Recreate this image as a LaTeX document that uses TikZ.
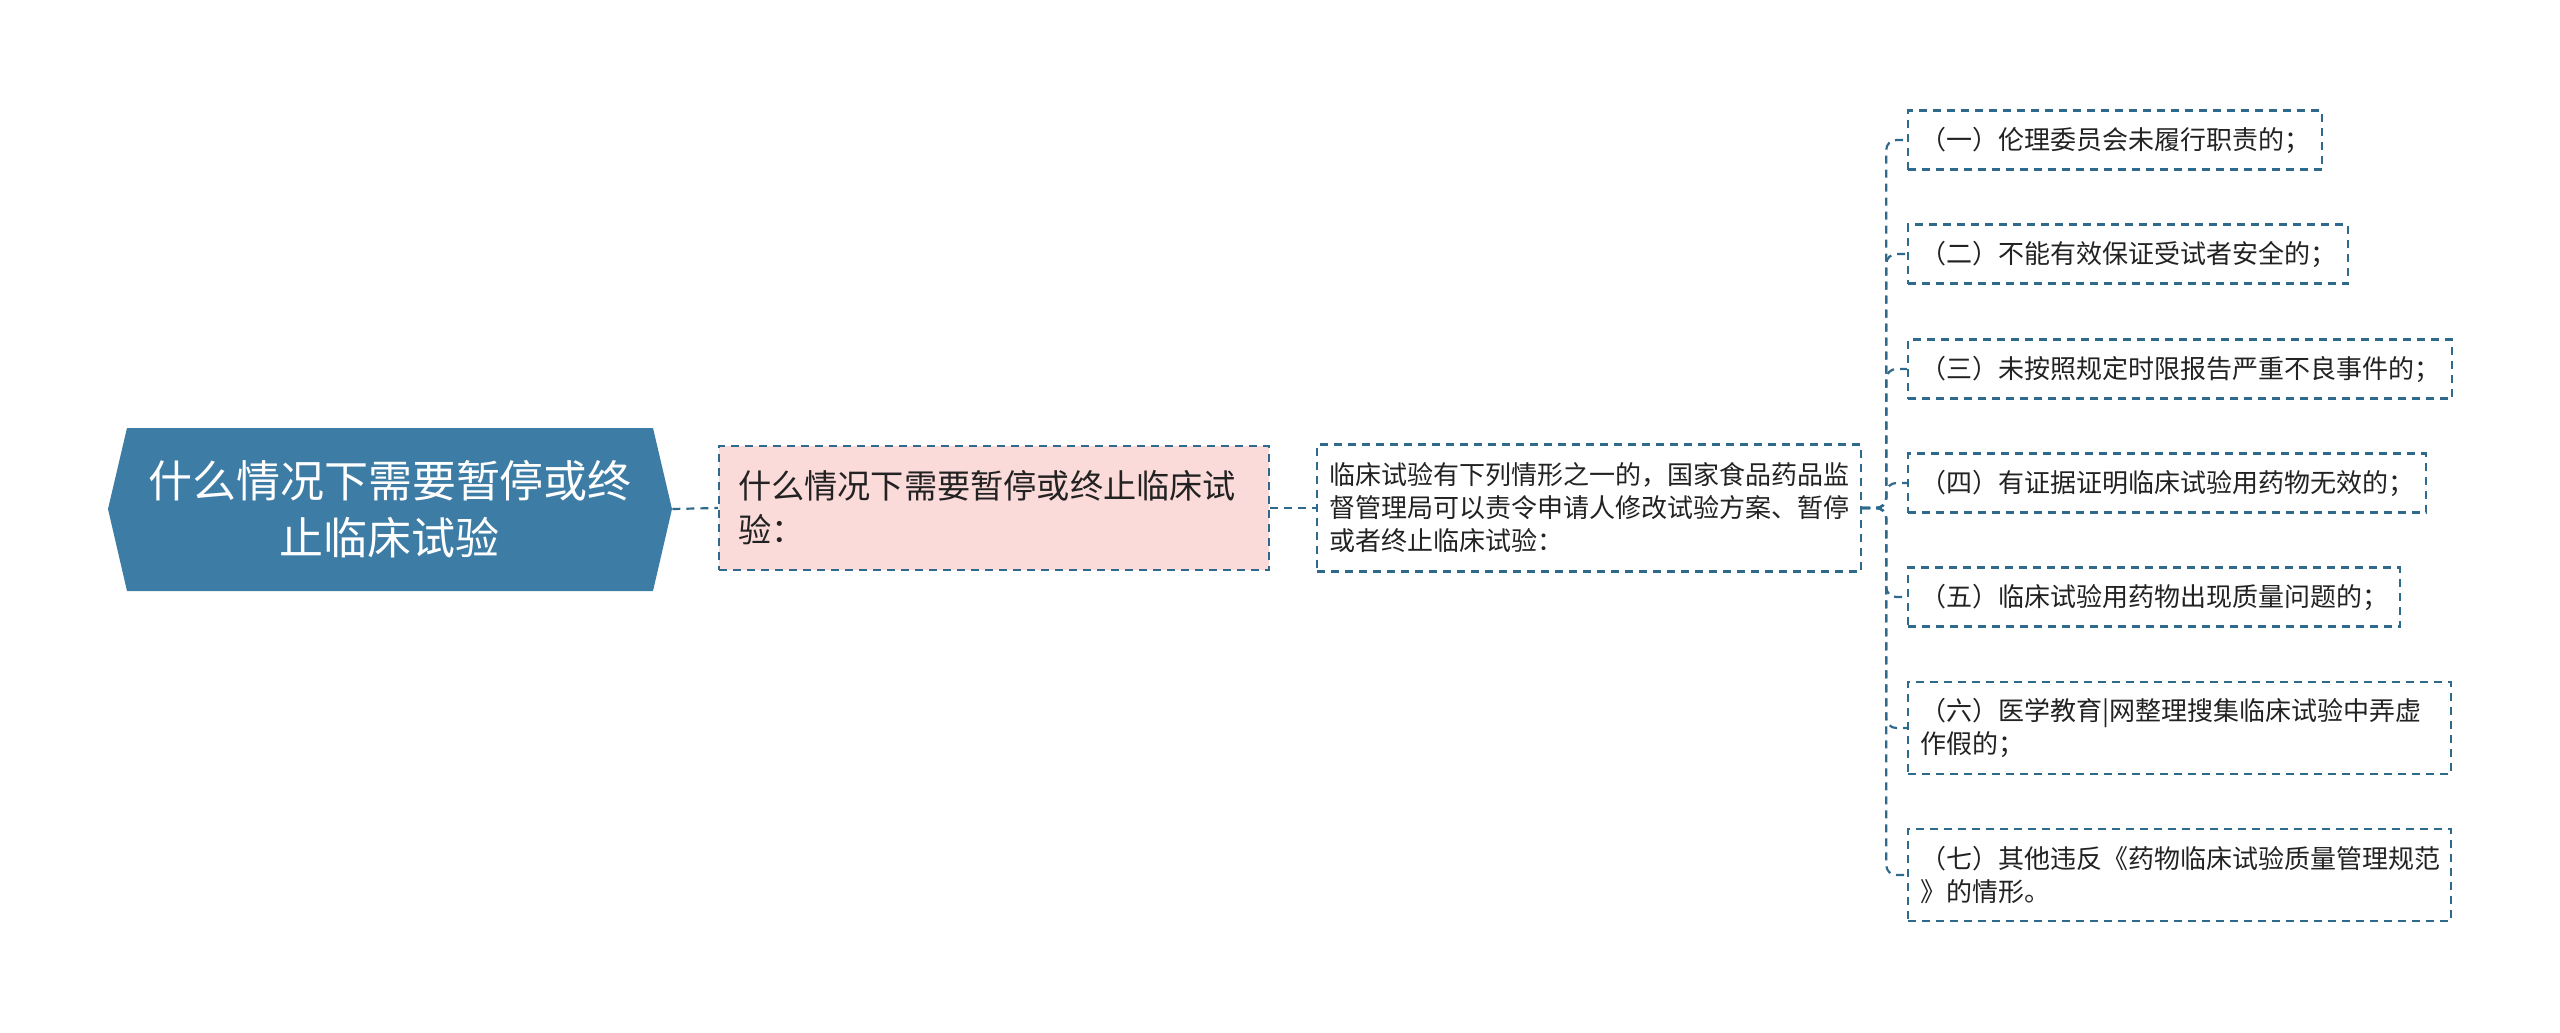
\documentclass[tikz,border=0pt]{standalone}
\usepackage{fontspec}
\setmainfont{Noto Sans CJK SC}
\definecolor{rootfill}{HTML}{3D7CA5}
\definecolor{pinkfill}{HTML}{FBDADA}
\definecolor{lineblue}{HTML}{2F6A8C}
\definecolor{txt}{HTML}{222222}
\begin{document}
\begin{tikzpicture}[x=0.5pt,y=-0.5pt,
  conn/.style={draw=lineblue, line width=1.1pt, dash pattern=on 4pt off 3pt},
  box/.style={draw=lineblue, line width=1.1pt, dash pattern=on 4pt off 3pt, text=txt,
    inner xsep=6pt, inner ysep=0pt, align=left, anchor=west,
    font=\fontsize{13pt}{16.5pt}\selectfont},
  leaf/.style={box, minimum height=29.5pt},
  leaftwo/.style={box, minimum height=46pt, text width=259.5pt},
  rootnode/.style={text=white, align=center, minimum width=282pt, minimum height=81.5pt,
    inner sep=0pt, font=\fontsize{22pt}{28.5pt}\selectfont}
]
\useasboundingbox (0,0) rectangle (2560,1033);
\fill[rootfill] (108,509) -- (127,428) -- (653,428) -- (672,509) -- (653,591) -- (127,591) -- cycle;
\node[rootnode] (root) at (390,509) {什么情况下需要暂停或终\\止临床试验};

\node[box, fill=pinkfill, font=\fontsize{16.6pt}{22pt}\selectfont, inner xsep=9.5pt,
  text width=256pt, minimum height=62pt] (n2) at (718,508)
  {什么情况下需要暂停或终止临床试\\验：};

\node[box, text width=260pt, minimum height=63.5pt] (n3) at (1316,508)
  {临床试验有下列情形之一的，国家食品药品监\\督管理局可以责令申请人修改试验方案、暂停\\或者终止临床试验：};

\node[leaf] (l1) at (1907,140) {（一）伦理委员会未履行职责的；};
\node[leaf] (l2) at (1907,254) {（二）不能有效保证受试者安全的；};
\node[leaf] (l3) at (1907,369) {（三）未按照规定时限报告严重不良事件的；};
\node[leaf] (l4) at (1907,483) {（四）有证据证明临床试验用药物无效的；};
\node[leaf] (l5) at (1907,597) {（五）临床试验用药物出现质量问题的；};
\node[leaftwo] (l6) at (1907,728) {（六）医学教育|网整理搜集临床试验中弄虚\\作假的；};
\node[leaftwo] (l7) at (1907,875) {（七）其他违反《药物临床试验质量管理规范\\》的情形。};

\draw[conn] (root.east) -- (n2.west);
\draw[conn] (n2.east) -- (n3.west);
\foreach \l in {l1,l2,l3,l4,l5,l6,l7}
  \draw[conn, rounded corners=5pt] (n3.east) -- ++(24,0) |- (\l.west);
\end{tikzpicture}
\end{document}
